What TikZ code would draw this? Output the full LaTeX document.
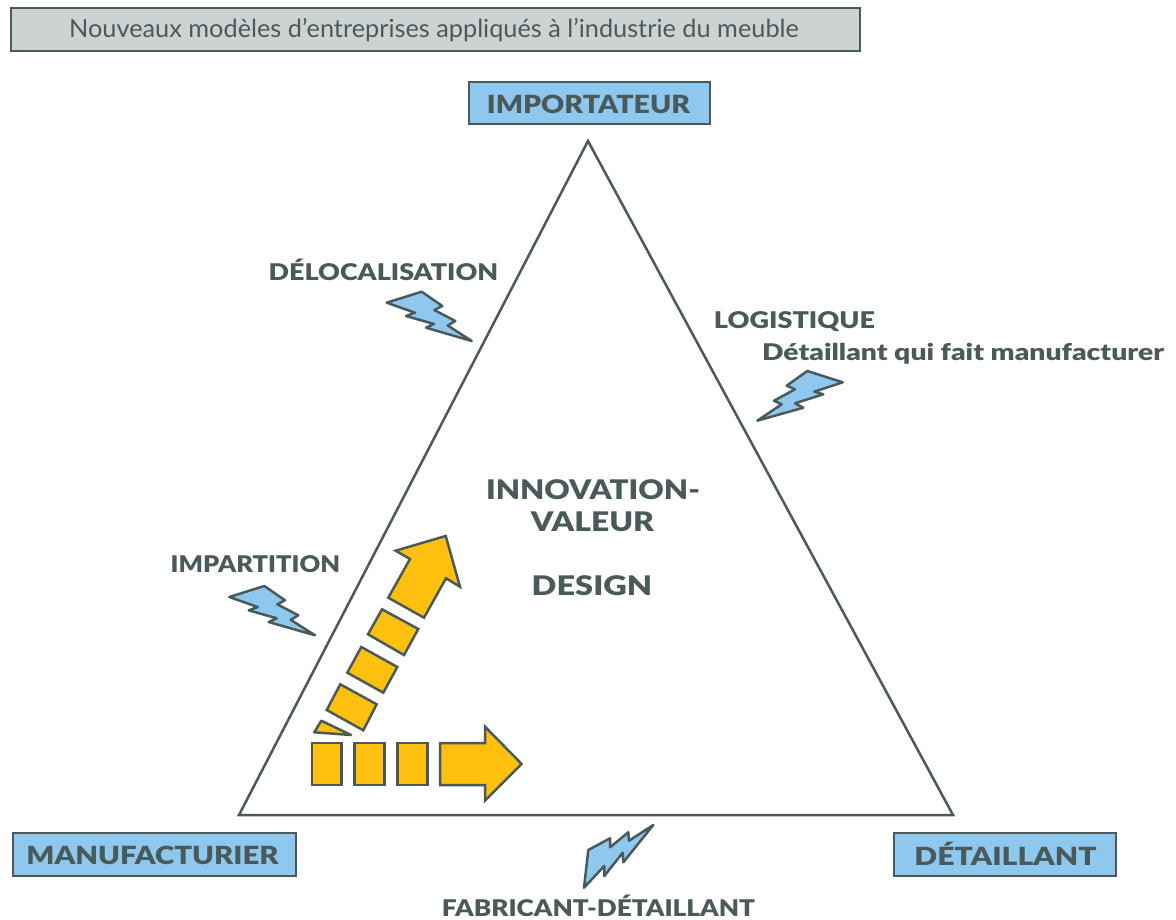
\documentclass[tikz,border=0pt]{standalone}
\usepackage{fontspec}
\setmainfont{Lato}[BoldFont={* Black}]
\definecolor{dk}{HTML}{4A5A5A}
\definecolor{bl}{HTML}{8EC8EE}
\definecolor{yl}{HTML}{FFC010}
\definecolor{gy}{HTML}{CDD3D3}
\tikzset{
  lab/.style={inner sep=0pt,anchor=base,text=dk,font=\bfseries\fontsize{#1}{#1}\selectfont},
  boxn/.style={draw=dk,line width=2.5pt,fill=bl,inner sep=0pt},
  bolt/.style={draw=dk,line width=2.5pt,fill=bl,line join=round},
  blk/.style={draw=dk,line width=2.5pt,fill=yl,line join=miter},
}
\begin{document}
\begin{tikzpicture}[x=1pt,y=-1pt]
\useasboundingbox (0,0) rectangle (1176,920);
\node[draw=dk,line width=2.5pt,fill=gy,minimum width=849pt,minimum height=43pt,inner sep=0pt] (title) at (435.5,29.5) {};
\node[inner sep=0pt,anchor=base,text=dk,font=\fontsize{25}{25}\selectfont] (titlet) at (434,38) {\scalebox{1.012}[1]{Nouveaux modèles d’entreprises appliqués à l’industrie du meuble}};
\draw[draw=dk,line width=2.5pt,line join=miter] (588,141) -- (953,815) -- (239,815) -- cycle;
\node[boxn,minimum width=241pt,minimum height=42pt] (imp) at (589.5,103) {};
\node[boxn,minimum width=283pt,minimum height=43pt] (man) at (154.5,854.5) {};
\node[boxn,minimum width=222pt,minimum height=43pt] (det) at (1005,854.5) {};
\node[lab=25] (impt) at (588.5,114) {\scalebox{1.14}[1]{IMPORTATEUR}};
\node[lab=25] (mant) at (152.5,864) {\scalebox{1.173}[1]{MANUFACTURIER}};
\node[lab=25] (dett) at (1005.5,865) {\scalebox{1.207}[1]{DÉTAILLANT}};
\node[lab=23] (delo) at (383.5,281) {\scalebox{1.168}[1]{DÉLOCALISATION}};
\node[lab=23] (logi) at (794.5,328) {\scalebox{1.175}[1]{LOGISTIQUE}};
\node[lab=23] (dqfm) at (963,360) {\scalebox{1.23}[1]{Détaillant qui fait manufacturer}};
\node[lab=23] (impa) at (255.5,572) {\scalebox{1.11}[1]{IMPARTITION}};
\node[lab=23] (fabr) at (598.5,916) {\scalebox{1.138}[1]{FABRICANT-DÉTAILLANT}};
\node[lab=27] (inno) at (593,499) {\scalebox{1.16}[1]{INNOVATION-}};
\node[lab=27] (valu) at (592.5,531) {\scalebox{1.18}[1]{VALEUR}};
\node[lab=27] (desi) at (592,595) {\scalebox{1.207}[1]{DESIGN}};
\draw[bolt] (386.7,302.7)--(421.7,291.7)--(442.3,306)--(434.3,310)--(455.3,321)--(447.7,325.5)--(471.7,341)--(426,327.7)--(434,324)--(406,316)--(415,312.7)--cycle;
\draw[bolt] (229.3,597)--(264.3,586)--(285,600.3)--(277.3,604.3)--(298.3,615.3)--(290.7,619.8)--(315,635.3)--(268.7,622)--(276.7,618.3)--(248.7,610.3)--(257.7,607)--cycle;
\draw[bolt] (757.3,420.7)--(781.7,404.3)--(774,400.7)--(795,389.3)--(786.7,385.7)--(807.3,371)--(842.7,382.3)--(814.3,391.7)--(823.3,394.3)--(795,403.3)--(803.3,407.7)--cycle;
\draw[bolt] (584,887.7)--(588.3,850)--(610,838.3)--(610,847.3)--(628.3,832.3)--(629,840.7)--(653.3,825)--(623.3,862.3)--(622.7,852.7)--(604.3,876)--(604.3,866)--cycle;
\draw[blk] (388.3,597.7)--(410,559)--(395.7,550.7)--(445.7,536)--(460,586.7)--(446,578.3)--(424,617.7)--cycle;
\draw[blk] (382,609.3)--(418.3,629)--(404,655)--(368,634.3)--cycle;
\draw[blk] (361.3,647)--(397.3,667)--(383.3,692.7)--(347.3,672.7)--cycle;
\draw[blk] (340.3,684.3)--(376.7,704.3)--(363.3,730.3)--(326.7,710)--cycle;
\draw[blk,line join=round] (321.3,720.7)--(351,735)--(314.3,732.3)--cycle;
\draw[blk] (312,743) rectangle (341.7,785);
\draw[blk] (354.7,743) rectangle (384.7,785);
\draw[blk] (397.7,743) rectangle (427.7,785);
\draw[blk] (440,743)--(485,743)--(485,726.7)--(521.7,764)--(485,800.7)--(485,785)--(440,785)--cycle;
\end{tikzpicture}
\end{document}
